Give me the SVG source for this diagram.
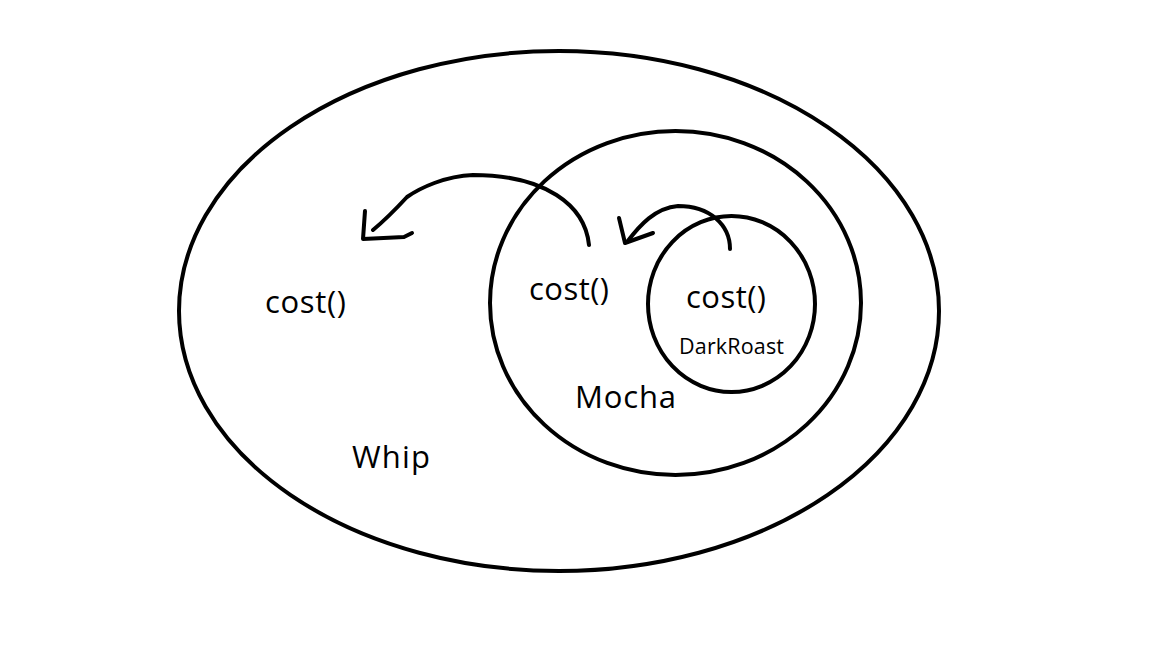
<svg xmlns="http://www.w3.org/2000/svg" width="1152" height="648" viewBox="0 0 1152 648">
<style>
.ring{fill:none;stroke:#000;stroke-width:4}
.arr{fill:none;stroke:#000;stroke-width:4;stroke-linecap:round;stroke-linejoin:round}
text{font-family:"Open Sans","Noto Sans",sans-serif;fill:#000}
.big{font-size:31px}
.small{font-size:21.5px}
</style>
<rect width="1152" height="648" fill="#fff"/>
<g id="whip">
<ellipse class="ring" cx="559" cy="311" rx="380" ry="260"/>
<text class="big" x="265" y="313" textLength="81">cost()</text>
<text class="big" x="352" y="468" textLength="78">Whip</text>
</g>
<g id="mocha">
<ellipse class="ring" cx="675.5" cy="303" rx="185.5" ry="172"/>
<text class="big" x="529" y="300" textLength="80">cost()</text>
<text class="big" x="575" y="408" textLength="101">Mocha</text>
</g>
<g id="darkroast">
<ellipse class="ring" cx="731.5" cy="304" rx="83.5" ry="88"/>
<text class="big" x="686" y="308" textLength="80">cost()</text>
<text class="small" x="679" y="354" textLength="105">DarkRoast</text>
</g>
<g id="connectors">
<path class="arr" d="M589,245 C585,205 545,175 473,175 C445,176 420,188 407,197 C395,210 385,220 373,230"/>
<path class="arr" d="M365,211 L363,239 L404,237 L412,233"/>
<path class="arr" d="M730,249 C730,225 710,206 678,206 C655,208 640,225 627,242"/>
<path class="arr" d="M619,218 L625,243 L653,233"/>
</g>
</svg>
